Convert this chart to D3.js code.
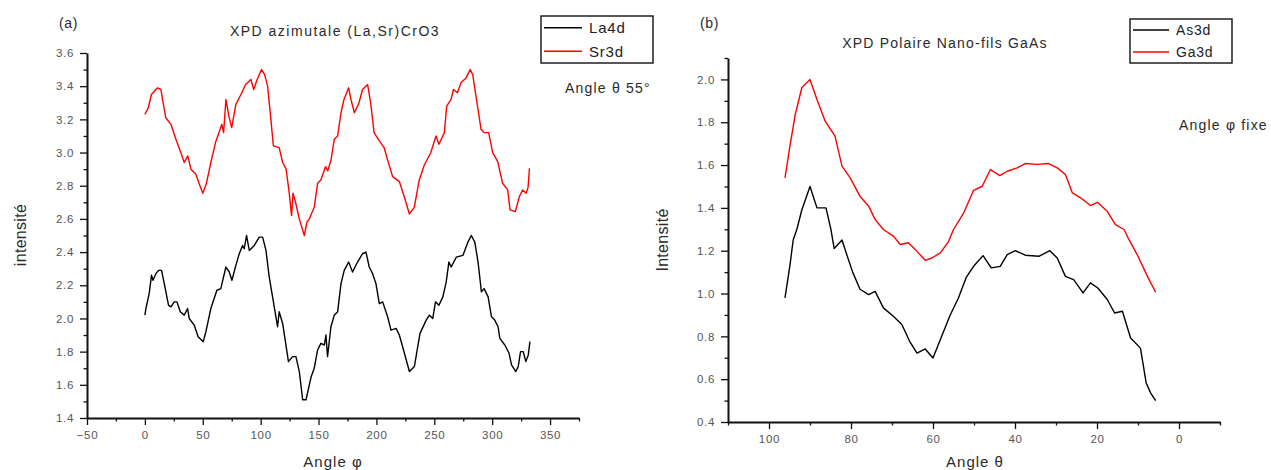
<!DOCTYPE html>
<html><head><meta charset="utf-8">
<script src="https://cdn.jsdelivr.net/npm/d3@7/dist/d3.min.js"></script>
<style>
body{margin:0;background:#fff;}
svg{display:block;font-family:"Liberation Sans",Arial,sans-serif;}
</style></head><body>
<svg id="c" width="1271" height="470"></svg>
<script>
// ---- Panel (a) data: azimuthal XPD (La,Sr)CrO3 ----
const phiLa = [0,0.9,3.7,5.7,7,9.5,11.8,14.4,17.3,20.4,22.5,25.4,27.7,30.6,34,36.9,38.3,42.6,46,50.4,52.7,57,62.2,65.6,67.6,70,72.9,75.2,78.6,81.5,84.4,85.8,87.8,90.2,94.5,98.8,101.7,104.6,107.4,110.3,113.2,114.6,116,119,121.2,124,127.6,130.5,133.4,136.3,139.2,143.5,146.3,149.2,152,155,156.4,157.8,160.7,163.6,166.5,169.4,172.2,176,179.4,183.7,188,191,193.8,196.7,199.6,202.5,205.4,209.7,212.6,217,219.8,224.2,228.5,232.8,235.7,237.7,243,245.8,248.7,251,254,257.4,260.3,262.6,264.6,269,274.7,279,282,285,287.8,290.7,293,296.5,299.4,302.2,305.1,306.6,310.9,314.6,316.7,320.4,322.5,324.5,326.8,329.1,331.2,332.6];
const la4d = [2.02,2.06,2.15,2.26,2.23,2.27,2.29,2.29,2.19,2.08,2.07,2.10,2.10,2.04,2.02,2.06,2.00,1.96,1.89,1.86,1.92,2.06,2.17,2.18,2.24,2.31,2.28,2.23,2.32,2.39,2.44,2.42,2.50,2.41,2.44,2.49,2.49,2.41,2.25,2.13,2.01,1.95,2.04,1.97,1.87,1.74,1.77,1.77,1.68,1.51,1.51,1.645,1.70,1.81,1.85,1.84,1.90,1.77,1.95,2.02,2.04,2.21,2.29,2.34,2.28,2.34,2.39,2.40,2.31,2.27,2.21,2.09,2.10,2.01,1.93,1.94,1.90,1.79,1.68,1.71,1.83,1.91,1.99,2.02,2.00,2.10,2.08,2.13,2.22,2.34,2.31,2.37,2.38,2.46,2.50,2.46,2.34,2.16,2.18,2.13,2.01,1.99,1.95,1.88,1.84,1.79,1.72,1.68,1.71,1.80,1.80,1.74,1.78,1.86];
const phiSr = [0,2.9,5.7,10.9,13.8,18,22.5,26.8,31,34,37,39.8,44,47,50,53,57,61,66.5,68,70,72.5,75,78.6,83,87,91.6,94,97,100.8,103.5,106,108,111,116,119,122,124.7,126.7,128,130.5,133.4,137.7,140,142,146.3,149.2,152,156,158,160.8,163.6,166.5,169.4,172,176,178,181,185,188,192.4,195,198,202.5,206.6,209.7,214,219.8,224,228.5,232.7,237,241.4,247,251.5,254,258.7,260.7,264.5,266.5,270,273,277.4,281,283.2,286,290.4,293,297,300.4,304.8,309,313.4,315.4,320,323.5,326.4,329.3,331,332.2];
const sr3d = [3.23,3.27,3.35,3.39,3.38,3.21,3.17,3.08,3.00,2.94,2.98,2.90,2.87,2.81,2.755,2.81,2.94,3.06,3.17,3.12,3.32,3.22,3.15,3.29,3.35,3.41,3.44,3.38,3.44,3.50,3.47,3.40,3.26,3.04,3.03,2.94,2.90,2.755,2.62,2.755,2.69,2.60,2.50,2.58,2.60,2.67,2.815,2.835,2.915,2.89,2.955,3.08,3.10,3.24,3.32,3.39,3.32,3.24,3.30,3.38,3.41,3.30,3.12,3.07,3.03,2.955,2.855,2.825,2.735,2.63,2.67,2.835,2.925,3.00,3.10,3.05,3.12,3.28,3.32,3.38,3.36,3.42,3.45,3.50,3.47,3.34,3.14,3.12,3.12,3.00,2.945,2.815,2.775,2.654,2.644,2.735,2.775,2.755,2.79,2.905];
const xTicksA = [-50,0,50,100,150,200,250,300,350];
const yTicksA = [1.4,1.6,1.8,2.0,2.2,2.4,2.6,2.8,3.0,3.2,3.4,3.6];

// ---- Panel (b) data: polar XPD GaAs nanowires ----
const thetaAs = [96.1,94.9,94.1,93.2,92.0,90.0,88.3,86.1,84.9,84.1,82.2,81.0,79.6,77.8,75.7,74.1,72.1,69.6,67.6,65.7,63.9,61.9,60.0,58.2,55.8,53.8,51.9,50.1,47.8,45.8,43.6,41.9,39.9,37.5,34.2,31.5,29.7,27.7,25.7,23.4,21.6,19.8,17.5,15.7,13.8,11.8,9.4,8.0,6.9,5.7];
const as3d = [0.98,1.13,1.25,1.30,1.39,1.50,1.40,1.40,1.30,1.21,1.25,1.18,1.10,1.02,0.995,1.01,0.933,0.893,0.855,0.777,0.722,0.741,0.699,0.785,0.90,0.979,1.075,1.127,1.177,1.12,1.127,1.182,1.20,1.179,1.174,1.20,1.166,1.08,1.065,1.003,1.05,1.026,0.972,0.909,0.917,0.792,0.745,0.582,0.535,0.50];
const thetaGa = [96.1,94.9,93.6,92.0,90.0,88.3,86.3,83.9,82.2,80.2,77.8,75.7,74.1,72.1,69.6,68.0,66.0,63.9,61.9,60.3,58.2,56.2,55.0,52.5,50.1,48.0,46.0,43.7,41.9,39.5,37.5,34.6,31.8,29.7,27.7,26.0,24.0,21.6,19.9,17.5,15.5,13.4,12.2,10.2,7.7,5.7];
const ga3d = [1.54,1.688,1.836,1.961,2.00,1.906,1.805,1.735,1.595,1.54,1.454,1.408,1.345,1.299,1.267,1.229,1.237,1.197,1.155,1.166,1.19,1.244,1.299,1.377,1.482,1.501,1.579,1.551,1.571,1.587,1.607,1.603,1.607,1.587,1.556,1.47,1.447,1.411,1.426,1.384,1.322,1.299,1.252,1.182,1.08,1.006];
const xTicksB = [100,80,60,40,20,0];
const yTicksB = [0.4,0.6,0.8,1.0,1.2,1.4,1.6,1.8,2.0];

const svg = d3.select("#c");
const TXT = "#2a2a2a", TICK = "#555";

function panel(o){
  const g = svg.append("g");
  const x = d3.scaleLinear().domain(o.xd).range([o.x0, o.x1]);
  const y = d3.scaleLinear().domain(o.yd).range([o.y1, o.y0]);
  g.append("g").attr("transform",`translate(0,${o.y1})`)
    .call(d3.axisBottom(x).tickValues(o.xMinor).tickSize(3.5).tickFormat(""))
    .call(a=>a.select(".domain").remove());
  g.append("g").attr("transform",`translate(${o.x0},0)`)
    .call(d3.axisLeft(y).tickValues(o.yMinor).tickSize(3.5).tickFormat(""))
    .call(a=>a.select(".domain").remove());
  const ax = g.append("g").attr("transform",`translate(0,${o.y1})`)
    .call(d3.axisBottom(x).tickValues(o.xt).tickSize(7).tickSizeOuter(0).tickPadding(6).tickFormat(d3.format("d")));
  const ay = g.append("g").attr("transform",`translate(${o.x0},0)`)
    .call(d3.axisLeft(y).tickValues(o.yt).tickSize(7).tickSizeOuter(0).tickPadding(6).tickFormat(d3.format(".1f")));
  [ax,ay].forEach(a=>{
    a.select(".domain").attr("stroke","#111").attr("stroke-width",2);
    a.selectAll(".tick text").attr("fill",TICK).style("font-size","11.5px").style("letter-spacing","0.7px");
  });
  g.selectAll(".tick line").attr("stroke","#111").attr("stroke-width",1.3);
  const line = d3.line().x(d=>x(d[0])).y(d=>y(d[1]));
  o.series.forEach(s=>{
    g.append("path").datum(d3.zip(s.x,s.y)).attr("d",line)
      .attr("fill","none").attr("stroke",s.c).attr("stroke-width",1.4).attr("stroke-linejoin","round");
  });
  return g;
}

function minors(a,b,step){ const r=[]; for(let v=a; v<=b+1e-9; v+=step) r.push(+v.toFixed(3)); return r; }

panel({xd:[-50,375], yd:[1.4,3.6], x0:87, x1:579, y0:53, y1:418,
  xt:xTicksA, yt:yTicksA, xMinor:minors(-25,375,50), yMinor:minors(1.5,3.5,0.2),
  series:[{x:phiLa,y:la4d,c:"#000"},{x:phiSr,y:sr3d,c:"#ff0000"}]});

panel({xd:[110,-10], yd:[0.4,2.1], x0:728, x1:1220, y0:58, y1:422,
  xt:xTicksB, yt:yTicksB, xMinor:[110,90,70,50,30,10,-10], yMinor:minors(0.5,2.1,0.2),
  series:[{x:thetaAs,y:as3d,c:"#000"},{x:thetaGa,y:ga3d,c:"#ff0000"}]});

function text(x,y,s,size,opt={}){
  const t = svg.append("text").attr("x",x).attr("y",y).text(s)
    .attr("fill",opt.fill||TXT).style("font-size",size+"px")
    .attr("text-anchor",opt.anchor||"start").attr("dominant-baseline","central")
    .style("letter-spacing",(opt.ls||0.6)+"px");
  if(opt.rot) t.attr("transform",`rotate(-90,${x},${y})`);
  return t;
}
text(59,23,"(a)",14);
text(335,31,"XPD azimutale (La,Sr)CrO3",14,{anchor:"middle",ls:1.5});
text(565,88,"Angle θ 55°",14,{ls:1.2});
text(20,235,"intensité",16,{anchor:"middle",rot:true,ls:0.3});
text(333,461,"Angle φ",15,{anchor:"middle",ls:1});

text(700,23,"(b)",14);
text(945,43,"XPD Polaire Nano-fils GaAs",14,{anchor:"middle",ls:1.2});
text(1179,125,"Angle φ fixe",14,{ls:1.2});
text(662,240,"Intensité",16,{anchor:"middle",rot:true,ls:0.3});
text(975,461,"Angle θ",15,{anchor:"middle",ls:1});

function legend(x0,y0,w,h,lineLen,items,size){
  svg.append("rect").attr("x",x0).attr("y",y0).attr("width",w).attr("height",h)
    .attr("fill","#fff").attr("stroke","#111").attr("stroke-width",1.4);
  items.forEach((it,i)=>{
    const yy = y0 + h*(i*2+1)/4;
    svg.append("line").attr("x1",x0+3).attr("x2",x0+3+lineLen).attr("y1",yy).attr("y2",yy)
      .attr("stroke",it.c).attr("stroke-width",1.4);
    text(x0+lineLen+10,yy,it.n,size,{fill:"#222",ls:0.8});
  });
}
legend(541,16,112,47,38,[{n:"La4d",c:"#000"},{n:"Sr3d",c:"#ff0000"}],15);
legend(1130,19,102,44,36,[{n:"As3d",c:"#000"},{n:"Ga3d",c:"#ff0000"}],14);
</script></body></html>
